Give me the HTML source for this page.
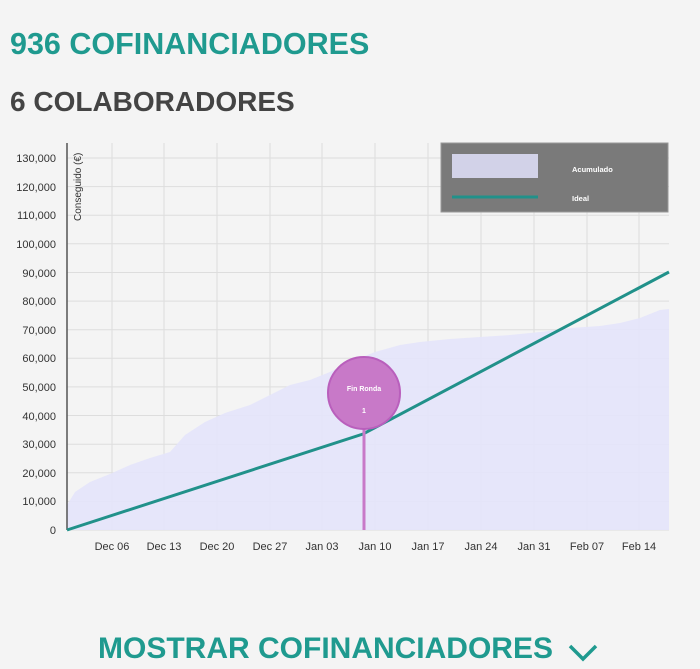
<!DOCTYPE html>
<html><head><style>
body{margin:0;background:#f4f4f4;width:700px;height:669px;overflow:hidden;font-family:"Liberation Sans",Arial,sans-serif;}
.h1{position:absolute;left:10px;top:27px;font-size:30.5px;font-weight:bold;color:#1f9a8f;}
.h2{position:absolute;left:10px;top:86px;font-size:28px;font-weight:bold;color:#444;}
.h3{position:absolute;left:98px;top:632px;font-size:30px;font-weight:bold;color:#1f9a8f;}
</style></head><body>
<div class="h1">936 COFINANCIADORES</div>
<div class="h2">6 COLABORADORES</div>
<svg style="position:absolute;left:0;top:0" width="700" height="669" font-family="Liberation Sans,Arial,sans-serif">
<g stroke="#ddd" stroke-width="1">
<line x1="67" x2="669" y1="530" y2="530"/><line x1="67" x2="669" y1="501.4" y2="501.4"/><line x1="67" x2="669" y1="472.8" y2="472.8"/><line x1="67" x2="669" y1="444.2" y2="444.2"/><line x1="67" x2="669" y1="415.5" y2="415.5"/><line x1="67" x2="669" y1="386.9" y2="386.9"/><line x1="67" x2="669" y1="358.3" y2="358.3"/><line x1="67" x2="669" y1="329.7" y2="329.7"/><line x1="67" x2="669" y1="301.1" y2="301.1"/><line x1="67" x2="669" y1="272.5" y2="272.5"/><line x1="67" x2="669" y1="243.8" y2="243.8"/><line x1="67" x2="669" y1="215.2" y2="215.2"/><line x1="67" x2="669" y1="186.6" y2="186.6"/><line x1="67" x2="669" y1="158" y2="158"/>
<line x1="112" x2="112" y1="143" y2="530"/><line x1="164" x2="164" y1="143" y2="530"/><line x1="217" x2="217" y1="143" y2="530"/><line x1="270" x2="270" y1="143" y2="530"/><line x1="322" x2="322" y1="143" y2="530"/><line x1="375" x2="375" y1="143" y2="530"/><line x1="428" x2="428" y1="143" y2="530"/><line x1="481" x2="481" y1="143" y2="530"/><line x1="534" x2="534" y1="143" y2="530"/><line x1="587" x2="587" y1="143" y2="530"/><line x1="639" x2="639" y1="143" y2="530"/>
</g>
<path d="M67,530 L67,505 75,492 90,482 110,474 130,465 150,458 170,452 185,435 205,422 225,413 250,405 270,395 290,385 310,380 330,372 350,362 375,352 400,345 420,342 450,339 480,337 510,335 540,332 570,328 600,326 620,323 640,318 660,310 669,309 L669,530 Z" fill="#e4e4fb" opacity="0.9"/>
<line x1="67" y1="143" x2="67" y2="530" stroke="#555" stroke-width="1.5"/>
<polyline points="67,530 363,434 669,272" fill="none" stroke="#21918a" stroke-width="3"/>
<line x1="364" y1="428" x2="364" y2="530" stroke="#c879c8" stroke-width="3"/>
<circle cx="364" cy="393" r="36" fill="#c879c8" stroke="#b95fbc" stroke-width="2"/>
<text x="364" y="391" font-size="7" fill="#fff" text-anchor="middle" font-weight="bold">Fin Ronda</text>
<text x="364" y="413" font-size="7" fill="#fff" text-anchor="middle" font-weight="bold">1</text>
<g font-size="11" fill="#333" text-anchor="end">
<text x="56" y="534">0</text><text x="56" y="505">10,000</text><text x="56" y="477">20,000</text><text x="56" y="448">30,000</text><text x="56" y="420">40,000</text><text x="56" y="391">50,000</text><text x="56" y="362">60,000</text><text x="56" y="334">70,000</text><text x="56" y="305">80,000</text><text x="56" y="277">90,000</text><text x="56" y="248">100,000</text><text x="56" y="219">110,000</text><text x="56" y="191">120,000</text><text x="56" y="162">130,000</text>
</g>
<g font-size="11" fill="#333" text-anchor="middle">
<text x="112" y="550">Dec 06</text><text x="164" y="550">Dec 13</text><text x="217" y="550">Dec 20</text><text x="270" y="550">Dec 27</text><text x="322" y="550">Jan 03</text><text x="375" y="550">Jan 10</text><text x="428" y="550">Jan 17</text><text x="481" y="550">Jan 24</text><text x="534" y="550">Jan 31</text><text x="587" y="550">Feb 07</text><text x="639" y="550">Feb 14</text>
</g>
<text transform="translate(81,221) rotate(-90)" font-size="10" fill="#333">Conseguido (€)</text>
<rect x="441" y="143" width="227" height="69" fill="#7a7a7a" stroke="#999"/>
<rect x="452" y="154" width="86" height="24" fill="#d2d2e8"/>
<line x1="452" y1="197" x2="538" y2="197" stroke="#21918a" stroke-width="3"/>
<text x="572" y="172" font-size="7.5" fill="#fff" font-weight="bold">Acumulado</text>
<text x="572" y="201" font-size="7.5" fill="#fff" font-weight="bold">Ideal</text>
<polyline points="570,646 583,659 596,646" fill="none" stroke="#1f9a8f" stroke-width="3.5"/>
</svg>
<div class="h3">MOSTRAR COFINANCIADORES</div>
</body></html>
